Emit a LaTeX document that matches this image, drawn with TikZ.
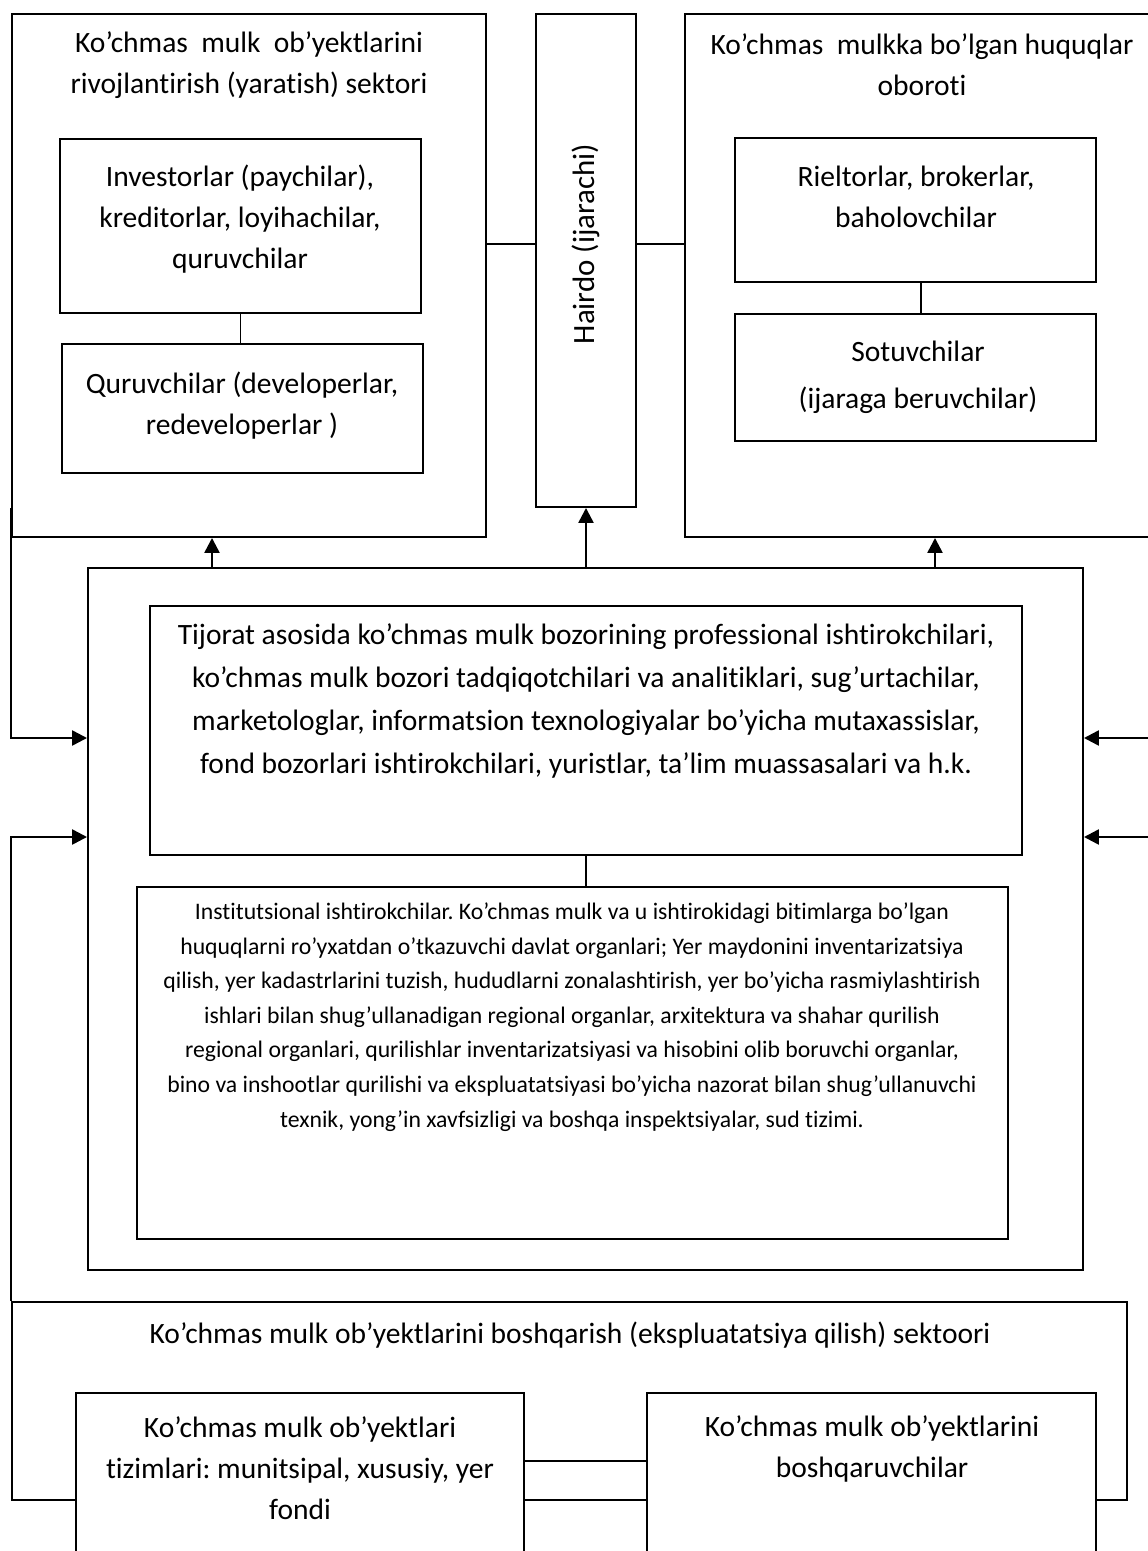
\documentclass[tikz,border=0pt]{standalone}
\usepackage{fontspec}
\setmainfont{Carlito}[Ligatures=NoCommon]
\usepackage{tikz}
\usetikzlibrary{arrows.meta}
\usetikzlibrary{positioning,fit}
\frenchspacing

\begin{document}
\begin{tikzpicture}[
x=0.02cm, y=-0.02cm,
Boxes/.style={draw=black, line width=1.1pt, fill=white, inner sep=0pt},
Texts/.style={align=center, inner sep=0pt, font=\fontsize{16.8}{23.3}\selectfont},
Links/.style={draw=black, line width=1.1pt},
Arrows/.style={draw=black, line width=1.4pt, -{Triangle[length=0.3cm, width=0.3cm]}}
]
%\draw[gray,step=50,dotted] (0,0) grid (1148,1551);
\useasboundingbox (0,0) rectangle (1148,1551);
\clip (0,0) rectangle (1148,1551);

\coordinate (Lk) at (0,244);
\coordinate (Ra) at (0,738);
\coordinate (Rb) at (0,837);
\coordinate (Rs) at (921,0);
\coordinate (Ma) at (0,1461);

% development sector
\node[Boxes, fit={(12,14) (486,537)}] (dev) {};
\node[Texts] (devT) at (249,65) {Ko’chmas~ mulk~ ob’yektlarini\\rivojlantirish (yaratish) sektori};
\node[Boxes, fit={(60,139) (421,313)}] (inv) {};
\node[Texts] (invT) at (240,219) {Investorlar (paychilar),\\kreditorlar, loyihachilar,\\quruvchilar};
\node[Boxes, fit={(62,344) (423,473)}] (qur) {};
\node[Texts] (qurT) at (242,406) {Quruvchilar (developerlar,\\redeveloperlar )};

% tenant
\node[Boxes, fit={(536,14) (636,507)}] (ten) {};
\node[Texts, rotate=90, font=\fontsize{17.6}{23}\selectfont] (tenT) at (586,244) {Hairdo (ijarachi)};

% rights turnover
\node[Boxes, fit={(685,14) (1170,537)}] (own) {};
\node[Texts] (ownT) at (922,65) {Ko’chmas~ mulkka bo’lgan huquqlar\\oboroti};
\node[Boxes, fit={(735,138) (1096,282)}] (rie) {};
\node[Texts] (rieT) at (916,197) {Rieltorlar, brokerlar,\\baholovchilar};
\node[Boxes, fit={(735,314) (1096,441)}] (sot) {};
\node[Texts, font=\fontsize{16.8}{26.8}\selectfont] (sotT) at (918,377) {Sotuvchilar\\(ijaraga beruvchilar)};

% infrastructure
\node[Boxes, fit={(88,568) (1083,1270)}] (mid) {};
\node[Boxes, fit={(150,606) (1022,855)}] (prof) {};
\node[Texts, font=\fontsize{16.8}{24.5}\selectfont] (profT) at (586,701) {Tijorat asosida ko’chmas mulk bozorining professional ishtirokchilari,\\ko’chmas mulk bozori tadqiqotchilari va analitiklari, sug’urtachilar,\\marketologlar, informatsion texnologiyalar bo’yicha mutaxassislar,\\fond bozorlari ishtirokchilari, yuristlar, ta’lim muassasalari va h.k.};
\node[Boxes, fit={(137,887) (1008,1239)}] (inst) {};
\node[Texts, font=\fontsize{13.5}{19.7}\selectfont] (instT) at (572,1017) {Institutsional ishtirokchilar. Ko’chmas mulk va u ishtirokidagi bitimlarga bo’lgan\\huquqlarni ro’yxatdan o’tkazuvchi davlat organlari; Yer maydonini inventarizatsiya\\qilish, yer kadastrlarini tuzish, hududlarni zonalashtirish, yer bo’yicha rasmiylashtirish\\ishlari bilan shug’ullanadigan regional organlar, arxitektura va shahar qurilish\\regional organlari, qurilishlar inventarizatsiyasi va hisobini olib boruvchi organlar,\\bino va inshootlar qurilishi va ekspluatatsiyasi bo’yicha nazorat bilan shug’ullanuvchi\\texnik, yong’in xavfsizligi va boshqa inspektsiyalar, sud tizimi.};

% management sector
\node[Boxes, fit={(12,1302) (1127,1500)}] (man) {};
\node[Texts] (manT) at (570,1335) {Ko’chmas mulk ob’yektlarini boshqarish (ekspluatatsiya qilish) sektoori};
\node[Boxes, fit={(76,1393) (524,1600)}] (sys) {};
\node[Texts] (sysT) at (300,1468) {Ko’chmas mulk ob’yektlari\\tizimlari: munitsipal, xususiy, yer\\fondi};
\node[Boxes, fit={(647,1393) (1096,1600)}] (mgr) {};
\node[Texts] (mgrT) at (872,1449) {Ko’chmas mulk ob’yektlarini\\boshqaruvchilar};

\draw[Links] (dev.east |- Lk) -- (ten.west |- Lk);
\draw[Links] (ten.east |- Lk) -- (own.west |- Lk);
\draw[Links] (inv.south) -- (inv.south |- qur.north);
\draw[Links] (rie.south -| Rs) -- (sot.north -| Rs);
\draw[Links] (prof.south) -- (prof.south |- inst.north);
\draw[Links] (sys.east |- Ma) -- (mgr.west |- Ma);

\draw[Arrows] (mid.north -| 212,0) -- (dev.south -| 212,0);
\draw[Arrows] (mid.north -| ten.south) -- (ten.south);
\draw[Arrows] (mid.north -| 935,0) -- (own.south -| 935,0);

\draw[Arrows] (dev.west |- 0,508) |- (mid.west |- Ra);
\draw[Arrows] (man.north west) |- (mid.west |- Rb);
\draw[Arrows] (own.east |- Ra) -- (mid.east |- Ra);
\draw[Arrows] (own.east |- Rb) -- (mid.east |- Rb);

\end{tikzpicture}
\end{document}
